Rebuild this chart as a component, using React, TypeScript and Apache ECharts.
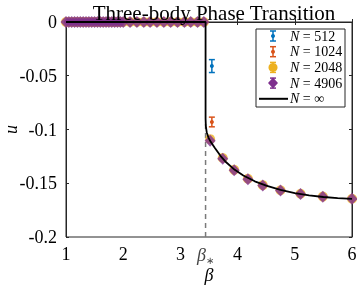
import React, { useEffect, useRef } from "react";
import * as echarts from "echarts";

const betaStar = 3.44;
const betaGrid = [1.0, 1.05, 1.1, 1.15, 1.2, 1.25, 1.3, 1.35, 1.4, 1.45, 1.5, 1.55, 1.6, 1.65, 1.7, 1.75, 1.8, 1.85, 1.9, 1.95, 2.0,
  2.12, 2.24, 2.36, 2.47, 2.59, 2.71, 2.83, 2.95, 3.07, 3.18, 3.3, 3.41,
  3.52, 3.74, 3.94, 4.18, 4.44, 4.75, 5.1, 5.49, 6.0];
const u4906 = [0, 0, 0, 0, 0, 0, 0, 0, 0, 0, 0, 0, 0, 0, 0, 0, 0, 0, 0, 0, 0,
  0, 0, 0, 0, 0, 0, 0, 0, 0, 0, 0, 0,
  -0.1104, -0.1272, -0.138, -0.1462, -0.1521, -0.1567, -0.16, -0.1625, -0.1645];
const u2048 = [0, 0, 0, 0, 0, 0, 0, 0, 0, 0, 0, 0, 0, 0, 0, 0, 0, 0, 0, 0, 0,
  0, 0, 0, 0, 0, 0, 0, 0, 0, 0, 0, 0,
  -0.109, -0.1265, -0.1375, -0.1458, -0.1518, -0.1565, -0.1598, -0.1624, -0.1644];
const beta1024 = [3.55];
const u1024 = [-0.093];
const err1024 = [0.0045];
const beta512 = [3.55];
const u512 = [-0.041];
const err512 = [0.006];
const betaInf = [1, 3.44, 3.44, 3.445, 3.46, 3.49, 3.53, 3.6, 3.7, 3.8, 3.95, 4.1, 4.3, 4.5, 4.75, 5.0, 5.25, 5.5, 5.75, 6.0];
const uInf = [0, 0, -0.09, -0.097, -0.1025, -0.1075, -0.1115, -0.117, -0.1245, -0.1305, -0.1375, -0.1428, -0.1482, -0.1522, -0.1562, -0.1592, -0.1613, -0.1628, -0.1638, -0.1645];
const dashBeta = [betaStar, betaStar];
const dashU = [-0.2, -0.092];
const xTickValues = [1, 2, 3, betaStar, 4, 5, 6];
const legendLabels = ["512", "1024", "2048", "4906", "∞"];

const BLUE = "#0072BD";
const ORANGE = "#D95319";
const YELLOW = "#EDB120";
const PURPLE = "#7E2F8E";
const AX = "#262626";
const FONT = "'Liberation Serif', 'Times New Roman', serif";

function errRender(color: string, withDot: boolean) {
  return (params: any, api: any) => {
    const x = api.value(0), y = api.value(1), e = api.value(2);
    const c = api.coord([x, y]);
    const t = api.coord([x, y + e]);
    const b = api.coord([x, y - e]);
    const st = { stroke: color, lineWidth: 1.5 };
    const children: any[] = [
      { type: "line", shape: { x1: c[0], y1: t[1], x2: c[0], y2: b[1] }, style: st },
      { type: "line", shape: { x1: c[0] - 3, y1: t[1], x2: c[0] + 3, y2: t[1] }, style: st },
      { type: "line", shape: { x1: c[0] - 3, y1: b[1], x2: c[0] + 3, y2: b[1] }, style: st },
    ];
    if (withDot) children.push({ type: "circle", shape: { cx: c[0], cy: c[1], r: 2 }, style: { fill: color } });
    return { type: "group", children };
  };
}

function legendIcon(i: number, y: number): any[] {
  const x = 273;
  const colors = [BLUE, ORANGE, YELLOW, PURPLE];
  if (i === 4) {
    return [{ type: "line", shape: { x1: 259, y1: y, x2: 288, y2: y }, style: { stroke: "#000", lineWidth: 2 } }];
  }
  const col = colors[i];
  const st = { stroke: col, lineWidth: 1.5 };
  const els: any[] = [
    { type: "line", shape: { x1: x, y1: y - 5, x2: x, y2: y + 5 }, style: st },
    { type: "line", shape: { x1: x - 3, y1: y - 5, x2: x + 3, y2: y - 5 }, style: st },
    { type: "line", shape: { x1: x - 3, y1: y + 5, x2: x + 3, y2: y + 5 }, style: st },
  ];
  if (i < 2) els.push({ type: "circle", shape: { cx: x, cy: y, r: 2 }, style: { fill: col } });
  if (i === 2) els.push({ type: "circle", shape: { cx: x, cy: y, r: 4.5 }, style: { fill: col } });
  if (i === 3) els.push({ type: "polygon", shape: { points: [[x, y - 5.5], [x + 5, y], [x, y + 5.5], [x - 5, y]] }, style: { fill: col } });
  return els;
}

export default function App() {
  const ref = useRef<HTMLDivElement>(null);
  useEffect(() => {
    if (!ref.current) return;
    const chart = echarts.init(ref.current, null, { renderer: "svg" });
    const legendEls: any[] = [
      { type: "rect", shape: { x: 256, y: 29, width: 89, height: 78 }, style: { fill: "#fff", stroke: AX, lineWidth: 1 } },
    ];
    legendLabels.forEach((lab, i) => {
      const y = 36 + i * 15.7;
      legendEls.push(...legendIcon(i, y));
      legendEls.push({
        type: "text", x: 290, y,
        style: {
          text: "{i|N} = " + lab,
          fill: "#000", font: "14px " + FONT, verticalAlign: "middle",
          rich: { i: { fontStyle: "italic", fontSize: 14, fontFamily: FONT, fill: "#000" } },
        },
      });
    });
    const axisBase = {
      type: "value" as const,
      axisLine: { show: true, lineStyle: { color: AX, width: 1 } },
      splitLine: { show: false },
    };
    chart.setOption({
      animation: false,
      title: {
        text: "Three-body Phase Transition",
        left: 209, top: -3, textAlign: "center",
        textStyle: { fontFamily: FONT, fontSize: 21, fontWeight: "normal", color: "#000" },
      },
      grid: {
        left: 66, right: 5, top: 22, bottom: 54, show: true, borderColor: AX, borderWidth: 1,
        containLabel: false, outerBoundsMode: "none",
      },
      xAxis: [
        {
          ...axisBase, position: "bottom", min: 1, max: 6, interval: 1,
          axisTick: { inside: true, length: 3, lineStyle: { color: AX }, customValues: xTickValues },
          axisLabel: {
            fontFamily: FONT, fontSize: 18, color: "#000", margin: 8, customValues: xTickValues,
            formatter: (v: number) => (Math.abs(v - betaStar) < 1e-6 ? "{b|β}{s|∗}" : String(v)),
            rich: {
              b: { fontFamily: FONT, fontSize: 18, fontStyle: "italic", color: "#444" },
              s: { fontFamily: FONT, fontSize: 10, color: "#444", padding: [10, 0, 0, 0] },
            },
          },
          name: "β", nameLocation: "middle", nameGap: 29, nameMoveOverlap: false,
          nameTextStyle: { fontFamily: FONT, fontSize: 18, fontStyle: "italic", color: "#000" },
        },
        {
          ...axisBase, position: "top", min: 1, max: 6, interval: 1,
          axisTick: { inside: true, length: 3, lineStyle: { color: AX } },
          axisLabel: { show: false },
        },
      ],
      yAxis: [
        {
          ...axisBase, position: "left", min: -0.2, max: 0, interval: 0.05,
          axisTick: { inside: true, length: 3, lineStyle: { color: AX } },
          axisLabel: {
            fontFamily: FONT, fontSize: 18, color: "#000", margin: 9,
            formatter: (v: number) => String(+v.toFixed(2)),
          },
          name: "u", nameLocation: "middle", nameGap: 48, nameMoveOverlap: false,
          nameTextStyle: { fontFamily: FONT, fontSize: 18, fontStyle: "italic", color: "#000", lineHeight: 14 },
        },
        {
          ...axisBase, position: "right", min: -0.2, max: 0, interval: 0.05,
          axisTick: { inside: true, length: 3, lineStyle: { color: AX } },
          axisLabel: { show: false },
        },
      ],
      series: [
        {
          type: "line", data: dashBeta.map((b, i) => [b, dashU[i]]), symbol: "none",
          lineStyle: { color: "#7a7a7a", width: 1.5, type: [5, 4] }, z: 1,
        },
        {
          type: "scatter", data: betaGrid.map((b, i) => [b, u2048[i]]), symbol: "circle", symbolSize: 10,
          itemStyle: { color: YELLOW }, clip: false, z: 2,
        },
        {
          type: "scatter", data: betaGrid.map((b, i) => [b, u4906[i]]), symbol: "diamond", symbolSize: [11, 12],
          itemStyle: { color: PURPLE }, clip: false, z: 3,
        },
        {
          type: "custom", renderItem: errRender(ORANGE, true), data: beta1024.map((b, i) => [b, u1024[i], err1024[i]]),
          encode: { x: 0, y: 1 }, z: 4,
        },
        {
          type: "custom", renderItem: errRender(BLUE, true), data: beta512.map((b, i) => [b, u512[i], err512[i]]),
          encode: { x: 0, y: 1 }, z: 4,
        },
        {
          type: "line", data: betaInf.map((b, i) => [b, uInf[i]]), symbol: "none",
          lineStyle: { color: "#000", width: 1.8 }, z: 5,
        },
      ],
      graphic: legendEls.map((e) => ({ ...e, z: 100 })),
    });
    return () => chart.dispose();
  }, []);
  return <div ref={ref} style={{ position: "fixed", left: 0, top: 0, width: 357, height: 291 }} />;
}
